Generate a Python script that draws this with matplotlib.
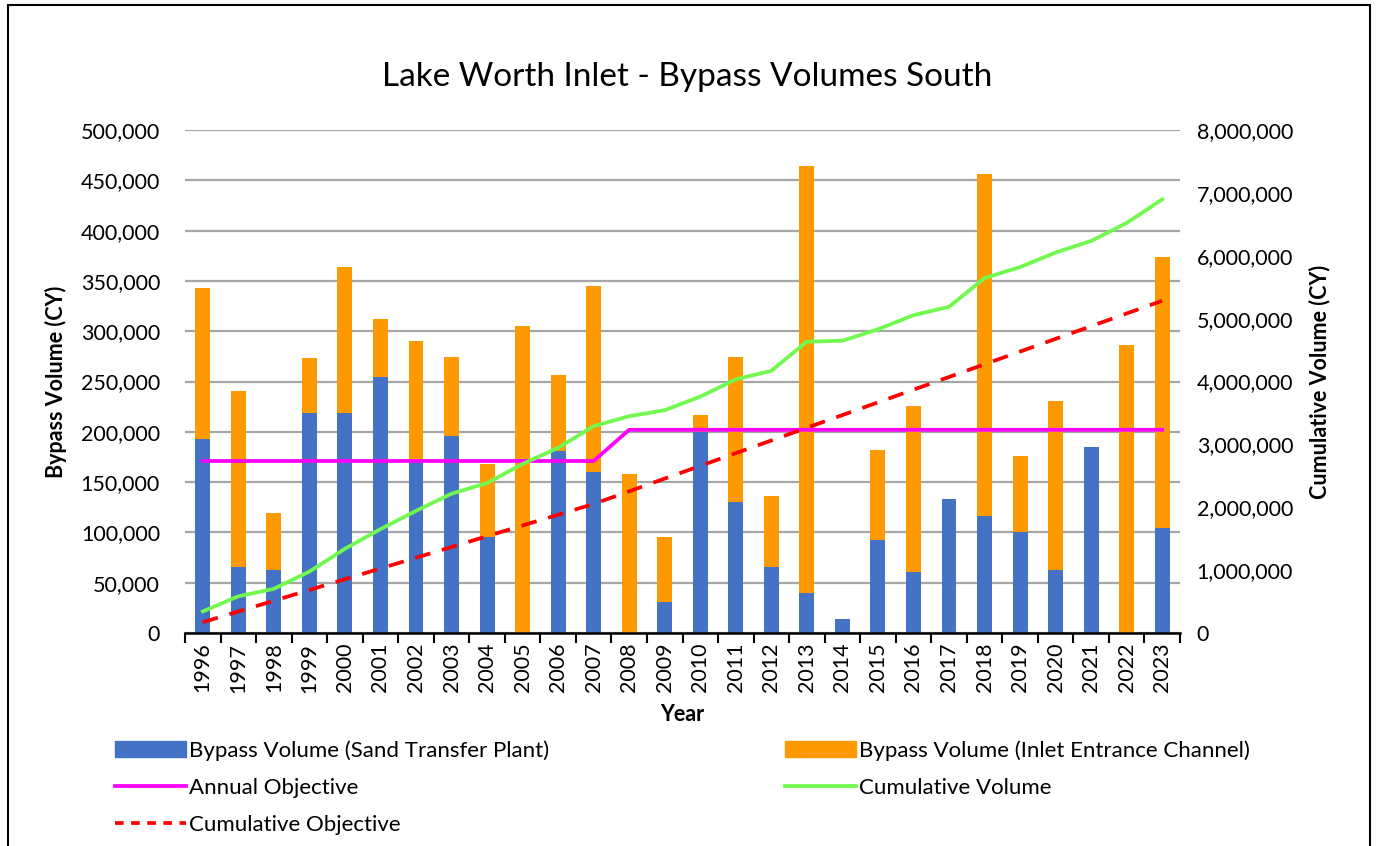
import matplotlib

matplotlib.use("Agg")
import matplotlib.pyplot as plt
from matplotlib.lines import Line2D
from matplotlib.patches import Patch, Rectangle
from matplotlib.ticker import FuncFormatter, MultipleLocator
import numpy as np

plt.rcParams["font.family"] = ["Lato", "DejaVu Sans"]

# --- data ----------------------------------------------------------------
years = [str(y) for y in range(1996, 2024)]
sand_transfer_plant = [
    193000, 66000, 63000, 219000, 219000, 254000, 171000, 196000, 95000, 0,
    181000, 160000, 0, 31000, 200000, 130000, 66000, 40000, 14000, 92000,
    61000, 133000, 116000, 100000, 63000, 185000, 0, 104000,
]
inlet_entrance_channel = [
    150000, 175000, 56000, 54000, 145000, 58000, 119000, 78000, 73000, 305000,
    75000, 185000, 158000, 64000, 17000, 144000, 70000, 424000, 0, 90000,
    165000, 0, 340000, 76000, 168000, 0, 286000, 270000,
]
annual_objective = [171000] * 12 + [202000] * 16
cumulative_volume = [
    343000, 584000, 703000, 976000, 1340000, 1652000, 1942000, 2216000,
    2384000, 2689000, 2945000, 3290000, 3448000, 3543000, 3760000, 4034000,
    4170000, 4634000, 4648000, 4830000, 5055000, 5188000, 5644000, 5820000,
    6051000, 6236000, 6522000, 6896000,
]
cumulative_objective = [
    171000, 342000, 513000, 684000, 855000, 1026000, 1197000, 1368000,
    1539000, 1710000, 1881000, 2052000, 2254000, 2456000, 2658000, 2860000,
    3062000, 3264000, 3466000, 3668000, 3870000, 4072000, 4274000, 4476000,
    4678000, 4880000, 5082000, 5284000,
]

BLUE = "#4472C4"
ORANGE = "#FF9900"
MAGENTA = "#FF00FF"
GREEN = "#72F94F"
RED = "#FF0000"
GRID = "#A6A6A6"
LW = 2.7
FS = 15.5

fig = plt.figure(figsize=(13.78, 8.46), dpi=100)
ax = fig.add_axes([185 / 1378, 1 - 633 / 846, 995 / 1378, 503 / 846])
ax2 = ax.twinx()

x = np.arange(len(years))
ax.bar(x, sand_transfer_plant, width=0.42, color=BLUE, zorder=2)
ax.bar(x, inlet_entrance_channel, width=0.42, bottom=sand_transfer_plant,
       color=ORANGE, zorder=2)
ax.plot(x, annual_objective, color=MAGENTA, lw=LW, zorder=3)
ax2.plot(x, cumulative_volume, color=GREEN, lw=LW)
ax2.plot(x, cumulative_objective, color=RED, lw=LW, dashes=(4.2, 3.2))

ax.set_xlim(-0.5, len(years) - 0.5)
ax.set_ylim(0, 500000)
ax2.set_ylim(0, 8000000)
ax.yaxis.set_major_locator(MultipleLocator(50000))
ax2.yaxis.set_major_locator(MultipleLocator(1000000))
fmt = FuncFormatter(lambda v, _: f"{v:,.0f}")
ax.yaxis.set_major_formatter(fmt)
ax2.yaxis.set_major_formatter(fmt)
ax.grid(axis="y", color=GRID, lw=1.6, zorder=0)
ax.set_axisbelow(True)

ax.set_xticks(x)
ax.set_xticklabels(years, rotation=90, fontsize=FS)
ax.set_xticks(np.arange(-0.5, len(years)), minor=True)
ax.tick_params(axis="x", which="major", length=0, pad=7)
ax.tick_params(axis="x", which="minor", length=7, width=1.5, color="black")
ax.tick_params(axis="y", length=0, labelsize=FS, pad=18)
ax2.tick_params(axis="y", length=0, labelsize=FS, pad=12)

for a in (ax, ax2):
    for side in ("left", "right", "top", "bottom"):
        a.spines[side].set_visible(False)
ax.spines["bottom"].set_visible(True)
ax.spines["bottom"].set_linewidth(1.8)
ax.spines["bottom"].set_zorder(4)

ax.set_xlabel("Year", fontsize=FS, fontweight="bold", labelpad=8)
ax.set_ylabel("Bypass Volume (CY)", fontsize=FS, fontweight="bold", labelpad=10)
ax2.set_ylabel("Cumulative Volume (CY)", fontsize=FS, fontweight="bold",
               labelpad=11)

fig.text(687 / 1378, 1 - 77 / 846, "Lake Worth Inlet - Bypass Volumes South",
         ha="center", va="center", fontsize=24)

# legend: two columns laid out like the original
left_handles = [
    Patch(color=BLUE, label="Bypass Volume (Sand Transfer Plant)"),
    Line2D([], [], color=MAGENTA, lw=LW, label="Annual Objective"),
    Line2D([], [], color=RED, lw=LW, dashes=(2.3, 2.0),
           label="Cumulative Objective"),
]
right_handles = [
    Patch(color=ORANGE, label="Bypass Volume (Inlet Entrance Channel)"),
    Line2D([], [], color=GREEN, lw=LW, label="Cumulative Volume"),
]
leg_kw = dict(frameon=False, fontsize=16, handlelength=3.2, handleheight=0.75,
              handletextpad=0.15, labelspacing=0.78, loc="upper left",
              borderaxespad=0, borderpad=0)
fig.legend(handles=left_handles, bbox_to_anchor=(115 / 1378, 1 - 740 / 846),
           **leg_kw)
fig.legend(handles=right_handles, bbox_to_anchor=(785 / 1378, 1 - 740 / 846),
           **leg_kw)

fig.patches.append(Rectangle((8 / 1378, -0.02), 1362 / 1378, 1 - 5 / 846 + 0.02,
                             transform=fig.transFigure, fill=False,
                             edgecolor="black", lw=1.5))

fig.savefig("out.png", dpi=100)
